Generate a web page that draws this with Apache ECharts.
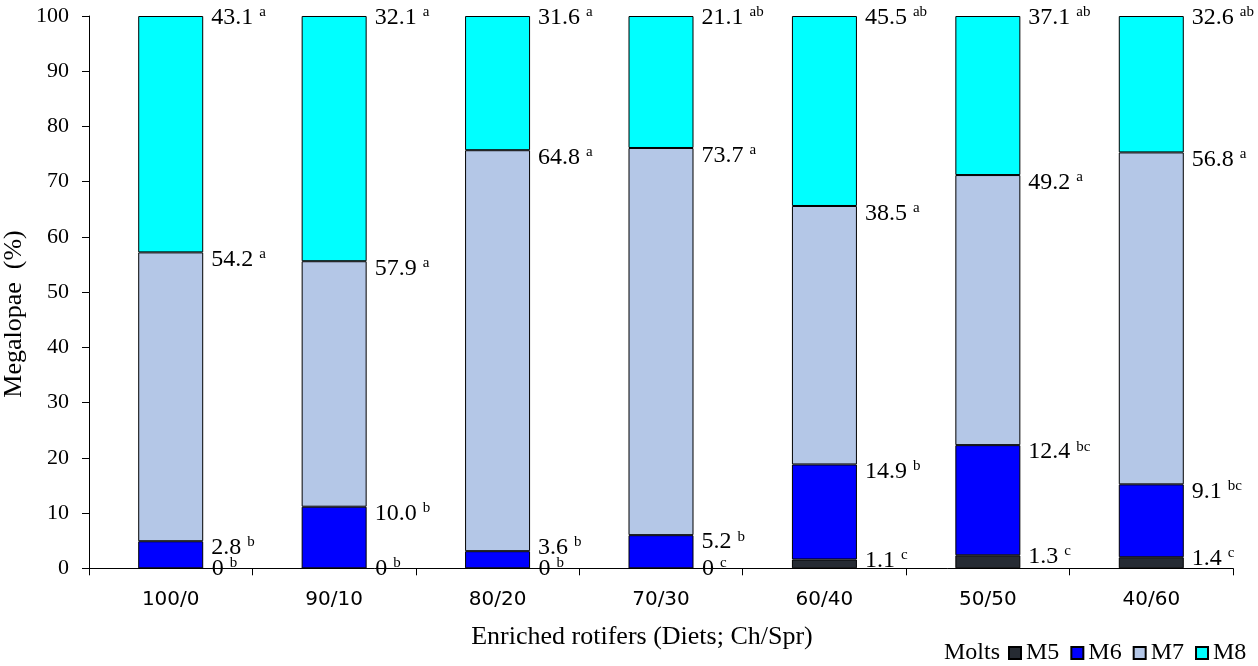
<!DOCTYPE html>
<html>
<head>
<meta charset="utf-8">
<script src="https://cdn.jsdelivr.net/npm/echarts@6/dist/echarts.min.js"></script>
<style>
  html, body { margin: 0; padding: 0; background: #fff; }
  #chart { width: 1258px; height: 666px; }
</style>
</head>
<body>
<div id="chart"></div>
<script>
// categories
const diets = ['100/0', '90/10', '80/20', '70/30', '60/40', '50/50', '40/60'];

// segment heights as drawn in the bars (%)
const m5 = [0, 0, 0, 0, 1.6, 2.35, 2.0];
const m6 = [4.9, 11.15, 3.1, 6.0, 17.2, 19.95, 13.2];
const m7 = [52.3, 44.45, 72.6, 70.1, 46.8, 48.9, 60.1];
const m8 = [42.8, 44.4, 24.3, 23.9, 34.4, 28.8, 24.7];

// printed values and significance letters next to each segment
const m5Text = ['0', '0', '0', '0', '1.1', '1.3', '1.4'];
const m5Sig = ['b', 'b', 'b', 'c', 'c', 'c', 'c'];
const m6Text = ['2.8', '10.0', '3.6', '5.2', '14.9', '12.4', '9.1'];
const m6Sig = ['b', 'b', 'b', 'b', 'b', 'bc', 'bc'];
const m7Text = ['54.2', '57.9', '64.8', '73.7', '38.5', '49.2', '56.8'];
const m7Sig = ['a', 'a', 'a', 'a', 'a', 'a', 'a'];
const m8Text = ['43.1', '32.1', '31.6', '21.1', '45.5', '37.1', '32.6'];
const m8Sig = ['a', 'a', 'a', 'ab', 'ab', 'ab', 'ab'];

const yTicks = { min: 0, max: 100, interval: 10 };

const SERIF = "'Liberation Serif', 'Times New Roman', serif";
const SANS = "'DejaVu Sans', Verdana, sans-serif";

const rich = {
    n: { fontFamily: SERIF, fontSize: 24, color: '#000', lineHeight: 26 },
    s: { fontFamily: SERIF, fontSize: 15, color: '#000', lineHeight: 17, verticalAlign: 'top' }
};

// labels sit just right of the bar, near the top edge of their segment
function layoutAt(dy, keepAboveBottom) {
    return function (p) {
        let y = p.rect.y + dy;
        if (keepAboveBottom) y = Math.min(y, p.rect.y + p.rect.height - 21);
        return { x: p.rect.x + p.rect.width + 8, y: y, align: 'left', verticalAlign: 'middle' };
    };
}

function makeSeries(name, values, color, texts, sigs, dy, keepAboveBottom) {
    return {
        name: name,
        type: 'bar',
        stack: 'molts',
        data: values,
        barWidth: 65,
        itemStyle: { color: color, borderColor: '#000', borderWidth: 1 },
        label: {
            show: true,
            formatter: p => '{n|' + texts[p.dataIndex] + ' }{s|' + sigs[p.dataIndex] + '}',
            rich: rich
        },
        labelLayout: layoutAt(dy, keepAboveBottom),
        emphasis: { disabled: true },
        animation: false
    };
}

const chart = echarts.init(document.getElementById('chart'));
chart.setOption({
    backgroundColor: '#fff',
    animation: false,
    grid: { left: 89, right: 25, top: 16, bottom: 97.7 },
    legend: {
        data: ['M5', 'M6', 'M7', 'M8'],
        left: 1008,
        top: 641,
        padding: 0,
        icon: 'rect',
        itemWidth: 12,
        itemHeight: 12,
        itemGap: 11,
        selectedMode: false,
        textStyle: { fontFamily: SERIF, fontSize: 24, color: '#000' }
    },
    xAxis: {
        type: 'category',
        data: diets,
        axisLine: { lineStyle: { color: '#000', width: 1 } },
        axisTick: { show: true, length: 7, lineStyle: { color: '#000' } },
        axisLabel: { fontFamily: SANS, fontSize: 20, color: '#000', margin: 21 }
    },
    yAxis: {
        type: 'value',
        min: yTicks.min,
        max: yTicks.max,
        interval: yTicks.interval,
        splitLine: { show: false },
        axisLine: { show: true, lineStyle: { color: '#000', width: 1 } },
        axisTick: { show: true, length: 7, lineStyle: { color: '#000' } },
        axisLabel: { fontFamily: SERIF, fontSize: 22, color: '#000', margin: 20 }
    },
    graphic: [
        {
            type: 'text',
            x: 14, y: 314,
            rotation: Math.PI / 2,
            style: { text: 'Megalopae  (%)', font: '26px ' + SERIF, fill: '#000', align: 'center', verticalAlign: 'middle' }
        },
        {
            type: 'text',
            x: 642, y: 637,
            style: { text: 'Enriched rotifers (Diets; Ch/Spr)', font: '26px ' + SERIF, fill: '#000', align: 'center', verticalAlign: 'middle' }
        },
        {
            type: 'text',
            x: 944, y: 653,
            style: { text: 'Molts', font: '24px ' + SERIF, fill: '#000', align: 'left', verticalAlign: 'middle' }
        }
    ],
    series: [
        makeSeries('M5', m5, '#262B33', m5Text, m5Sig, 1, false),
        makeSeries('M6', m6, '#0000FF', m6Text, m6Sig, 7, true),
        makeSeries('M7', m7, '#B4C7E7', m7Text, m7Sig, 7.5, false),
        makeSeries('M8', m8, '#00FFFF', m8Text, m8Sig, 2, false)
    ]
});
</script>
</body>
</html>
